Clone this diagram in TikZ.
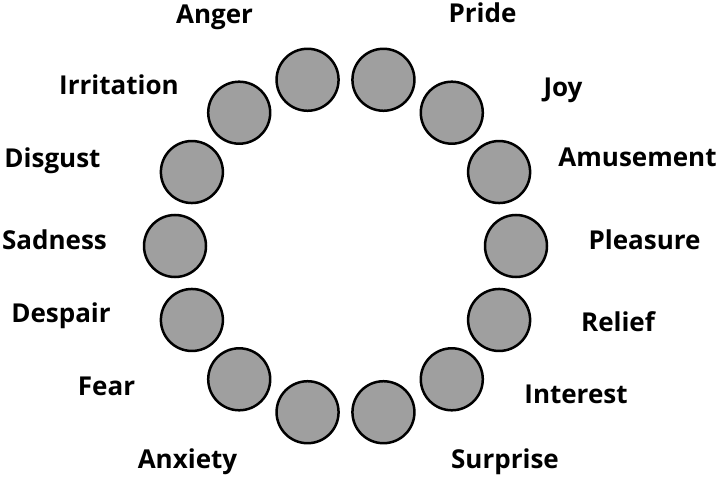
\documentclass[tikz,border=0pt]{standalone}
\usepackage{fontspec}
\setmainfont{Open Sans}
\begin{document}
\begin{tikzpicture}[x=1pt,y=-1pt,
  emo/.style={circle,draw=black,line width=2.5pt,fill=gray!75,minimum size=62pt,inner sep=0pt},
  lab/.style={anchor=base,font=\fontsize{26}{30}\selectfont\bfseries,inner sep=0pt}]
\useasboundingbox (0,0) rectangle (720,478);
\foreach \i/\a in {1/102.857,2/77.143,3/51.429,4/25.714,5/0,6/-25.714,7/-51.429,8/-77.143,9/-102.857,10/-128.571,11/-154.286,12/180,13/154.286,14/128.571}{
  \node[emo] (c\i) at ({345.5+170.5*cos(\a)},{246-170.5*sin(\a)}) {};
}
\node[lab] (l1) at (214.5,24) {Anger};
\node[lab] (l2) at (482.5,23) {Pride};
\node[lab] (l3) at (563,97) {Joy};
\node[lab] (l4) at (637.5,167) {Amusement};
\node[lab] (l5) at (644.5,250) {Pleasure};
\node[lab] (l6) at (618,331) {Relief};
\node[lab] (l7) at (576,403) {Interest};
\node[lab] (l8) at (505,468) {Surprise};
\node[lab] (l9) at (187.5,468) {Anxiety};
\node[lab] (l10) at (106.5,395) {Fear};
\node[lab] (l11) at (61,322) {Despair};
\node[lab] (l12) at (54.5,250) {Sadness};
\node[lab] (l13) at (52.5,168) {Disgust};
\node[lab] (l14) at (119,95) {Irritation};
\end{tikzpicture}
\end{document}
